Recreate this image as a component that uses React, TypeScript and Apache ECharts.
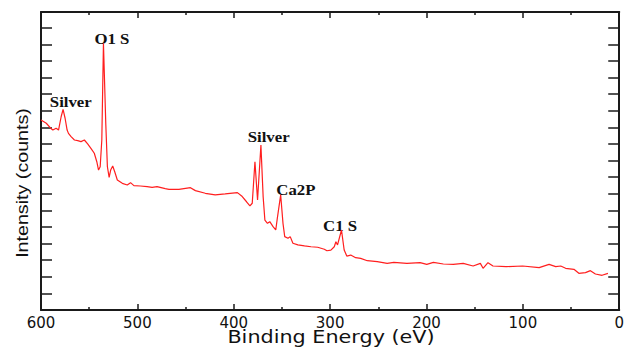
import { useEffect, useRef } from "react";
import * as echarts from "echarts";

const energy = [
  600, 594.5, 590, 587.7, 584.3, 581.8, 580.8, 579.1, 577.1, 575, 572.9, 571.5, 568.8, 565.3, 561.9,
  558.5, 555, 551.6, 548.2, 544.7, 542.1, 540.3, 538.6, 536.9, 535.2, 532.8, 531.1, 529.3, 527.7,
  525.6, 523.5, 520.8, 515.6, 510.5, 507.1, 503.6, 496.8, 489.9, 484.7, 479.6, 471.1, 467.2, 456.9,
  444.9, 439.8, 429.5, 419.2, 408.9, 396.2, 391.8, 386.7, 383.2, 380.8, 378, 375.3, 371.8, 369.5,
  367.7, 365, 362.6, 359.2, 356.4, 354.8, 351.3, 348.9, 347.1, 343.7, 341.4, 338.6, 333.5, 326.6,
  319.8, 312.9, 306, 303.3, 299.2, 295.7, 294, 292.3, 288.2, 285.4, 282.7, 278.6, 273.5, 268.3,
  261.4, 251.1, 240.8, 233.9, 220.3, 206.6, 199.7, 192.8, 182.5, 172.2, 161.9, 151.6, 144.1, 141.3,
  136.2, 131, 117.3, 100.2, 83.1, 72.8, 65.9, 60.7, 55.6, 47, 41.9, 35, 29.9, 24.7, 17.8, 11.7,
];
const intensity = [
  11.45, 11.25, 10.95, 10.84, 10.95, 10.84, 11.14, 11.64, 12.09, 11.55, 10.84, 10.64, 10.44, 10.24,
  10.2, 10.14, 10.24, 10.0, 9.74, 9.44, 8.93, 8.43, 8.63, 10.24, 16.07, 11.25, 8.63, 7.99, 8.43,
  8.67, 8.33, 7.83, 7.63, 7.53, 7.67, 7.49, 7.47, 7.43, 7.39, 7.43, 7.31, 7.27, 7.27, 7.37, 7.19,
  7.03, 6.93, 6.99, 7.07, 6.87, 6.52, 6.27, 6.43, 8.93, 6.63, 9.94, 6.83, 5.42, 5.22, 5.32, 5.02,
  4.82, 5.52, 6.93, 5.22, 4.42, 4.32, 4.42, 4.02, 3.92, 3.86, 3.81, 3.78, 3.66, 3.57, 3.61, 3.81,
  4.11, 3.92, 4.82, 3.61, 3.25, 3.31, 3.15, 3.11, 2.97, 2.91, 2.81, 2.87, 2.81, 2.85, 2.75, 2.87,
  2.77, 2.75, 2.81, 2.65, 2.81, 2.51, 2.85, 2.65, 2.61, 2.65, 2.55, 2.75, 2.61, 2.65, 2.51, 2.45,
  2.21, 2.25, 2.37, 2.17, 2.09, 2.21,
];

const annotationLabels = ["Silver", "O1 S", "Silver", "Ca2P", "C1 S"];
const annotationEnergy = [569.1, 526.4, 363.8, 335.5, 289.7];
const annotationIntensity = [12.5, 16.33, 10.39, 7.23, 5.03];

const xAxisTitle = "Binding Energy (eV)";
const yAxisTitle = "Intensity (counts)";

export default function App() {
  const ref = useRef<HTMLDivElement>(null);
  useEffect(() => {
    const chart = echarts.init(ref.current!, null, { renderer: "svg" });
    const dark = "#1a1a1a";
    const axisLine = { show: true, onZero: false, lineStyle: { color: dark, width: 2 } };
    const xBase: any = {
      type: "value",
      min: 0,
      max: 600,
      interval: 100,
      inverse: true,
      axisLine,
      splitLine: { show: false },
      axisTick: { show: true, inside: true, length: 6, lineStyle: { color: dark, width: 1.5 } },
      minorTick: { show: true, splitNumber: 2, length: 3, lineStyle: { color: dark, width: 1.5 } },
      minorSplitLine: { show: false },
    };
    const yBase: any = {
      type: "value",
      min: 0,
      max: 17.95,
      interval: 1,
      axisLine,
      splitLine: { show: false },
      axisLabel: { show: false },
      axisTick: { show: true, inside: true, length: 11, lineStyle: { color: dark, width: 1.5 } },
    };
    chart.setOption({
      animation: false,
      backgroundColor: "#ffffff",
      grid: { left: 41, right: 3, top: 12, bottom: 46, containLabel: false },
      xAxis: [
        {
          ...xBase,
          position: "bottom",
          axisLabel: {
            show: true,
            margin: 5,
            fontFamily: "DejaVu Sans",
            fontSize: 15,
            color: "#111",
            showMaxLabel: true,
            showMinLabel: true,
          },
        },
        { ...xBase, position: "top", axisLabel: { show: false } },
      ],
      yAxis: [
        { ...yBase, position: "left" },
        { ...yBase, position: "right" },
      ],
      series: [
        {
          type: "line",
          xAxisIndex: 0,
          yAxisIndex: 0,
          data: energy.map((e, i) => [e, intensity[i]]),
          showSymbol: false,
          symbol: "none",
          lineStyle: { color: "#ff1f1f", width: 1.2 },
        },
      ],
    });
    const annos = annotationLabels.map((t, i) => {
      const p = chart.convertToPixel({ gridIndex: 0 }, [annotationEnergy[i], annotationIntensity[i]]) as number[];
      return {
        type: "text",
        x: p[0],
        y: p[1],
        scaleX: 1.2,
        style: {
          text: t,
          font: 'bold 14px "Liberation Serif"',
          fill: "#111",
          align: "center",
          verticalAlign: "middle",
          textAlign: "center",
          textVerticalAlign: "middle",
        },
      };
    });
    chart.setOption({
      graphic: [
        ...annos,
        {
          type: "text",
          x: 331,
          y: 337,
          scaleX: 1.22,
          style: {
            text: xAxisTitle,
            font: '17px "DejaVu Sans"',
            fill: "#111",
            align: "center",
            verticalAlign: "middle",
            textAlign: "center",
            textVerticalAlign: "middle",
          },
        },
        {
          type: "text",
          x: 23,
          y: 183,
          rotation: Math.PI / 2,
          scaleX: 1.23,
          style: {
            text: yAxisTitle,
            font: '16px "Liberation Sans"',
            fill: "#111",
            align: "center",
            verticalAlign: "middle",
            textAlign: "center",
            textVerticalAlign: "middle",
          },
        },
      ],
    });
    return () => chart.dispose();
  }, []);
  return (
    <div
      ref={ref}
      style={{ position: "fixed", left: 0, top: 0, width: 627, height: 356, background: "#fff" }}
    />
  );
}
